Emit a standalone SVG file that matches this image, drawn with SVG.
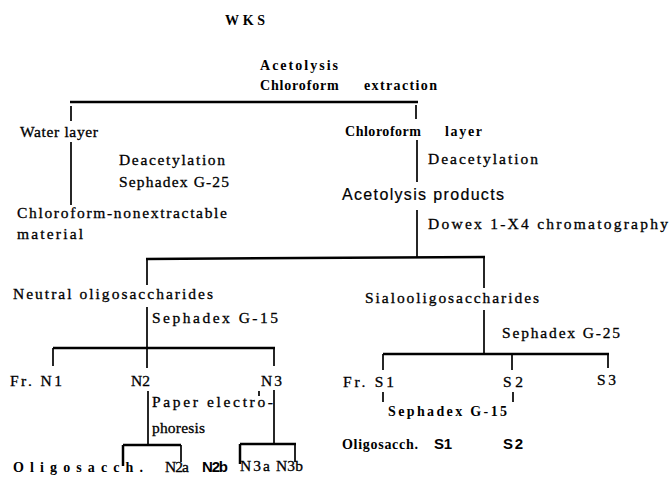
<svg xmlns="http://www.w3.org/2000/svg" width="670" height="481" viewBox="0 0 670 481">
<style>
  .s { font-family: "Liberation Serif", "Times New Roman", serif; font-size: 15.5px; fill: #000; stroke: #000; stroke-width: 0.3; }
  .b { font-family: "Liberation Serif", "Times New Roman", serif; font-size: 14px; font-weight: bold; fill: #000; }
  .ss { font-family: "Liberation Sans", Arial, sans-serif; font-size: 16px; fill: #000; stroke: #000; stroke-width: 0.2; }
  .sb { font-family: "Liberation Sans", Arial, sans-serif; font-size: 15px; font-weight: bold; fill: #000; }
  .ln { stroke: #000; stroke-width: 1.7; fill: none; }
  .th { stroke: #000; stroke-width: 2.5; fill: none; }
</style>
<rect width="670" height="481" fill="#fff"/>
<g id="connectors">
  <line class="th" x1="70" y1="102" x2="418" y2="102"/>
  <line class="ln" x1="71" y1="106" x2="71" y2="121"/>
  <line class="ln" x1="416" y1="105" x2="416" y2="119" stroke-width="3"/>
  <line class="ln" x1="71" y1="142" x2="71" y2="205"/>
  <line class="ln" x1="417" y1="140" x2="417" y2="182"/>
  <line class="ln" x1="417" y1="210" x2="417" y2="258"/>
  <line class="th" x1="146" y1="259" x2="485" y2="257" stroke-width="2"/>
  <line class="ln" x1="147" y1="259" x2="147" y2="285"/>
  <line class="ln" x1="484" y1="258" x2="484" y2="288"/>
  <line class="ln" x1="147" y1="307" x2="147" y2="348"/>
  <line class="ln" x1="484" y1="310" x2="484" y2="354"/>
  <line class="th" x1="53" y1="348" x2="275" y2="348" stroke-width="2"/>
  <line class="ln" x1="53" y1="348" x2="53" y2="366"/>
  <line class="ln" x1="147" y1="348" x2="147" y2="368"/>
  <line class="ln" x1="274" y1="348" x2="274" y2="366"/>
  <line class="th" x1="383" y1="354" x2="609" y2="354" stroke-width="2"/>
  <line class="ln" x1="383" y1="354" x2="383" y2="370"/>
  <line class="ln" x1="512" y1="354" x2="512" y2="370"/>
  <line class="ln" x1="608" y1="354" x2="608" y2="368"/>
  <line class="ln" x1="148" y1="391" x2="148" y2="445"/>
  <line class="ln" x1="274" y1="390" x2="274" y2="444"/>
  <line class="ln" x1="259" y1="391" x2="259" y2="396" stroke-width="1"/>
  <line class="th" x1="123" y1="445" x2="181" y2="445" stroke-width="2"/>
  <line class="th" x1="123" y1="445" x2="123" y2="466" stroke-width="2"/>
  <line class="ln" x1="181" y1="445" x2="181" y2="462"/>
  <line class="th" x1="240" y1="444" x2="296" y2="444" stroke-width="2"/>
  <line class="th" x1="240" y1="444" x2="240" y2="464" stroke-width="2"/>
  <line class="ln" x1="295" y1="444" x2="295" y2="462"/>
  <line class="ln" x1="383" y1="392" x2="383" y2="402"/>
  <line class="ln" x1="513" y1="392" x2="513" y2="402"/>
</g>
<g id="wks"><text class="b" x="225" y="25" textLength="40" lengthAdjust="spacing">WKS</text></g>
<g id="step-acetolysis">
  <text class="b" x="260" y="70" textLength="78" lengthAdjust="spacing">Acetolysis</text>
  <text class="b" y="90"><tspan x="260" textLength="83" lengthAdjust="spacing">Chloroform </tspan><tspan x="364" textLength="73" lengthAdjust="spacing">extraction</tspan></text>
</g>
<g id="water-layer"><text class="s" x="20" y="137" textLength="78" lengthAdjust="spacing">Water layer</text></g>
<g id="chloroform-layer"><text class="b" y="136"><tspan x="345" textLength="80" lengthAdjust="spacing">Chloroform </tspan><tspan x="445" textLength="37" lengthAdjust="spacing">layer</tspan></text></g>
<g id="step-water">
  <text class="s" x="119" y="165" textLength="106" lengthAdjust="spacing">Deacetylation</text>
  <text class="s" x="119" y="187" textLength="110" lengthAdjust="spacing">Sephadex G-25</text>
</g>
<g id="step-chloroform"><text class="s" x="428" y="164" textLength="110" lengthAdjust="spacing">Deacetylation</text></g>
<g id="acetolysis-products"><text class="ss" x="342" y="200" textLength="162" lengthAdjust="spacing">Acetolysis products</text></g>
<g id="nonextractable">
  <text class="s" x="17" y="218" textLength="210" lengthAdjust="spacing">Chloroform-nonextractable</text>
  <text class="s" x="17" y="239" textLength="66" lengthAdjust="spacing">material</text>
</g>
<g id="step-dowex"><text class="s" x="428" y="229" textLength="240" lengthAdjust="spacing">Dowex 1-X4 chromatography</text></g>
<g id="neutral"><text class="s" x="13" y="299" textLength="200" lengthAdjust="spacing">Neutral oligosaccharides</text></g>
<g id="sialo"><text class="s" x="365" y="303" textLength="174" lengthAdjust="spacing">Sialooligosaccharides</text></g>
<g id="step-neutral"><text class="s" x="152" y="323" textLength="126" lengthAdjust="spacing">Sephadex G-15</text></g>
<g id="step-sialo"><text class="s" x="502" y="338" textLength="118" lengthAdjust="spacing">Sephadex G-25</text></g>
<g id="fr-n1"><text class="s" x="10" y="386" textLength="52" lengthAdjust="spacing">Fr. N1</text></g>
<g id="n2"><text class="s" x="131" y="386" textLength="19" lengthAdjust="spacing">N2</text></g>
<g id="n3"><text class="s" x="261" y="386" textLength="21" lengthAdjust="spacing">N3</text></g>
<g id="fr-s1"><text class="s" x="343" y="387" textLength="51" lengthAdjust="spacing">Fr. S1</text></g>
<g id="s2"><text class="s" x="503" y="387" textLength="20" lengthAdjust="spacing">S2</text></g>
<g id="s3"><text class="s" x="597" y="385" textLength="19" lengthAdjust="spacing">S3</text></g>
<g id="step-paper">
  <text class="s" x="152" y="407" textLength="121" lengthAdjust="spacing">Paper electro-</text>
  <text class="s" x="152" y="433" textLength="53" lengthAdjust="spacing">phoresis</text>
</g>
<g id="step-s-g15"><text class="b" x="388" y="416" textLength="119" lengthAdjust="spacing">Sephadex G-15</text></g>
<g id="oligo-n">
  <text class="b" x="13" y="472" textLength="130" lengthAdjust="spacing">Oligosacch.</text>
  <text class="s" x="165" y="472" textLength="24" lengthAdjust="spacing">N2a</text>
  <text class="sb" x="202" y="472" textLength="26" lengthAdjust="spacing">N2b</text>
  <text class="s" x="240" y="471" textLength="30" lengthAdjust="spacing">N3a</text>
  <text class="s" x="276" y="471" textLength="27" lengthAdjust="spacing">N3b</text>
</g>
<g id="oligo-s">
  <text class="b" x="342" y="449" textLength="76" lengthAdjust="spacing">Oligosacch.</text>
  <text class="sb" x="434" y="449" textLength="18" lengthAdjust="spacing">S1</text>
  <text class="sb" x="503" y="449" textLength="20" lengthAdjust="spacing">S2</text>
</g>
</svg>
